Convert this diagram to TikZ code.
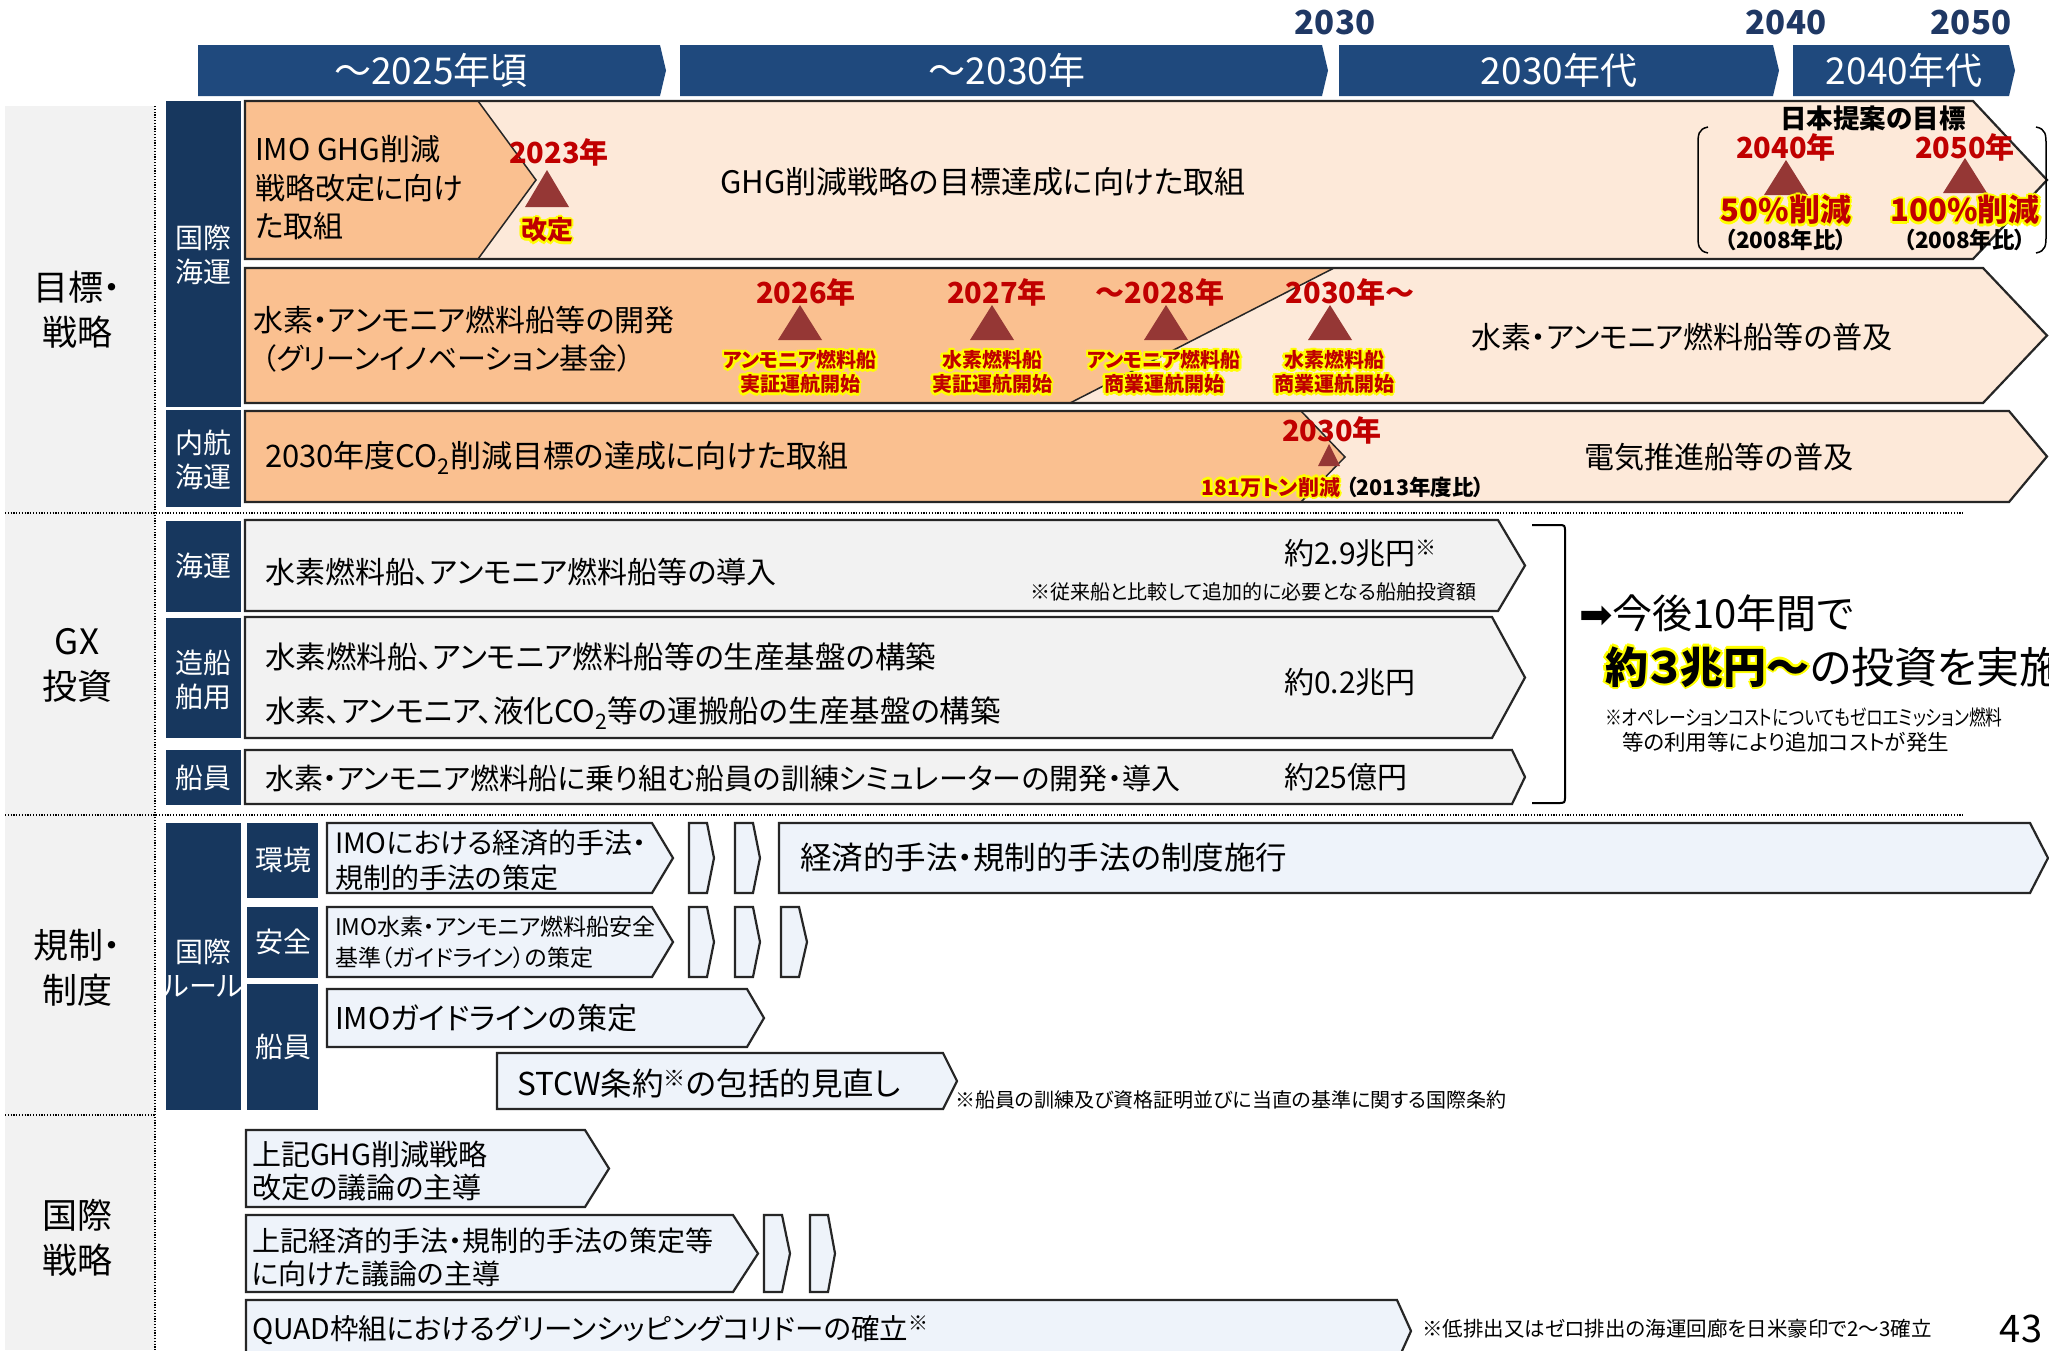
\documentclass[tikz,border=0pt]{standalone}
\usepackage{fontspec}
\setmainfont{Noto Sans CJK JP}[RawFeature=+palt]
\newfontfamily\djv{DejaVu Sans}
\definecolor{hdr}{HTML}{1F497D}
\definecolor{navy}{HTML}{17375E}
\definecolor{yearc}{HTML}{1F3864}
\definecolor{peach}{HTML}{FDE9D9}
\definecolor{orng}{HTML}{FAC090}
\definecolor{redt}{HTML}{C00000}
\definecolor{tric}{HTML}{953735}
\definecolor{gryb}{HTML}{F2F2F2}
\definecolor{lblue}{HTML}{EEF3FA}
\definecolor{bord}{HTML}{262626}
\definecolor{glowc}{HTML}{FFFF00}
\newcommand\fs[1]{\fontsize{#1}{\the\dimexpr #1pt*12/10\relax}\selectfont}
\newcommand\glw[1]{\leavevmode\begingroup\color{glowc}%
\rlap{\kern-2.4pt#1}\rlap{\kern2.4pt#1}\rlap{\raisebox{2.4pt}{#1}}\rlap{\raisebox{-2.4pt}{#1}}%
\rlap{\kern-1.7pt\raisebox{1.7pt}{#1}}\rlap{\kern1.7pt\raisebox{1.7pt}{#1}}%
\rlap{\kern-1.7pt\raisebox{-1.7pt}{#1}}\rlap{\kern1.7pt\raisebox{-1.7pt}{#1}}\endgroup#1}
\newcommand\pent[6]{\path[#6] (#1,#2) -- (#3,#2) -- (#4,{(#2+#5)/2}) -- (#3,#5) -- (#1,#5) -- cycle;}
\newcommand\tri[3]{\fill[tric] (#1,#2) -- ({#1-22},#3) -- ({#1+22},#3) -- cycle;}
\begin{document}
\begin{tikzpicture}[x=1pt,y=-1pt,
  t/.style={inner sep=0pt,outer sep=0pt},
  bx/.style={draw=bord,line width=2.2pt,line join=miter},
  dotline/.style={line width=2pt,dash pattern=on 1.2pt off 1.6pt},
  hbar/.style={fill=hdr},
  sub/.style={fill=navy},
  subt/.style={t,text=white,font=\fontsize{28}{34}\selectfont,align=center},
  catt/.style={t,font=\fontsize{35}{45}\selectfont,align=center},
  rl/.style={t,font=\bfseries\fs{29},text=redt},
  sl/.style={t,font=\bfseries\fs{20},text=redt,align=center},
  body/.style={t,font=\fs{30},anchor=west},
  hdt/.style={t,text=white,font=\fs{37}},
  ]
\useasboundingbox (0,0) rectangle (2049,1350);
\fill[white] (0,0) rectangle (2049,1350);
% left column
\fill[gryb] (5,106) rectangle (155,1350);
\draw[dotline] (155,106) -- (155,1350);
\draw[dotline] (5,513) -- (1963,513);
\draw[dotline] (5,815) -- (1963,815);
\draw[dotline] (5,1115) -- (155,1115);
% header
\pent{198}{45}{660}{666}{96}{hbar}
\pent{680}{45}{1322}{1328}{96}{hbar}
\pent{1339}{45}{1773}{1779}{96}{hbar}
\pent{1793}{45}{2009}{2015}{96}{hbar}
\node[hdt] (h1) at (431,70) {～2025年頃};
\node[hdt] (h2) at (1007,70) {～2030年};
\node[hdt] (h3) at (1559,70) {2030年代};
\node[hdt] (h4) at (1904,70) {2040年代};
\node[t,text=yearc,font=\bfseries\fs{33}] (y1) at (1335,23) {2030};
\node[t,text=yearc,font=\bfseries\fs{33}] (y2) at (1786,23) {2040};
\node[t,text=yearc,font=\bfseries\fs{33}] (y3) at (1971,23) {2050};
% categories
\node[catt] (c1) at (77,310) {目標・\\戦略};
\node[catt] (c2) at (77,665) {GX\\投資};
\node[catt] (c3) at (77,968) {規制・\\制度};
\node[catt] (c4) at (77,1238) {国際\\戦略};
% sub categories
\fill[sub] (166,101) rectangle (241,407);
\fill[sub] (166,410) rectangle (241,507);
\fill[sub] (166,521) rectangle (241,612);
\fill[sub] (166,618) rectangle (241,738);
\fill[sub] (166,750) rectangle (241,805);
\fill[sub] (166,823) rectangle (241,1110);
\fill[sub] (247,823) rectangle (318,898);
\fill[sub] (247,907) rectangle (318,978);
\fill[sub] (247,984) rectangle (318,1110);
\node[subt] (s1) at (203,255) {国際\\海運};
\node[subt] (s2) at (203,460) {内航\\海運};
\node[subt] (s3) at (203,566) {海運};
\node[subt] (s4) at (203,680) {造船\\舶用};
\node[subt] (s5) at (203,778) {船員};
\node[subt] (s6) at (203,968) {国際\\ルール};
\node[subt] (s7) at (283,860) {環境};
\node[subt] (s8) at (283,942) {安全};
\node[subt] (s9) at (283,1047) {船員};
% row 1
\pent{245}{101}{1973}{2047}{259}{fill=peach}
\fill[orng] (245,101) -- (478,101) -- (536,180) -- (478,259) -- (245,259) -- cycle;
\draw[line width=1.5pt,bord] (478,101) -- (536,180) -- (478,259);
\pent{245}{101}{1973}{2047}{259}{bx}
\node[t,font=\fontsize{30}{38.5}\selectfont,align=left,anchor=west] (r1a) at (255,188) {IMO GHG削減\\戦略改定に向け\\た取組};
\node[rl] (r1y) at (559,152) {2023年};
\tri{547}{170}{207}
\node[sl,font=\bfseries\fs{26}] (r1k) at (547,230) {\glw{改定}};
\node[body,anchor=center,font=\fs{31}] (r1b) at (983,182) {GHG削減戦略の目標達成に向けた取組};
\node[t,font=\bfseries\fs{26.5}] (r1j) at (1873,118) {日本提案の目標};
\draw[line width=1.5pt] (1708,127) .. controls (1698,129) and (1698,135) .. (1698,145) -- (1698,235) .. controls (1698,245) and (1698,251) .. (1708,253);
\draw[line width=1.5pt] (2036,127) .. controls (2046,129) and (2046,135) .. (2046,145) -- (2046,235) .. controls (2046,245) and (2046,251) .. (2036,253);
\node[rl] (r1y2) at (1786,147) {2040年};
\tri{1786}{160}{195}
\node[rl,font=\bfseries\fs{31}] (r1p1) at (1786,210) {\glw{50\%削減}};
\node[t,font=\bfseries\fs{22.5}] (r1c1) at (1786,240) {（2008年比）};
\node[rl] (r1y3) at (1965,147) {2050年};
\tri{1965}{158}{193}
\node[rl,font=\bfseries\fs{31}] (r1p2) at (1965,210) {\glw{100\%削減}};
\node[t,font=\bfseries\fs{22.5}] (r1c2) at (1965,240) {（2008年比）};
% row 2
\pent{245}{268}{1983}{2047}{403}{fill=peach}
\fill[orng] (245,268) -- (1334,268) -- (1070,403) -- (245,403) -- cycle;
\draw[line width=1.5pt,bord] (1334,268) -- (1070,403);
\pent{245}{268}{1983}{2047}{403}{bx}
\node[body] (r2a) at (253,320) {水素・アンモニア燃料船等の開発};
\node[body,font=\fs{29}] (r2b) at (262,358) {（グリーンイノベーション基金）};
\node[rl] (r2y1) at (806,292) {2026年};
\node[rl] (r2y2) at (997,292) {2027年};
\node[rl] (r2y3) at (1160,292) {～2028年};
\node[rl] (r2y4) at (1350,292) {2030年～};
\tri{800}{305}{340}
\tri{992}{305}{340}
\tri{1166}{305}{340}
\tri{1330}{305}{340}
\node[sl] (r2s1) at (800,372) {\glw{アンモニア燃料船}\\\glw{実証運航開始}};
\node[sl] (r2s2) at (992,372) {\glw{水素燃料船}\\\glw{実証運航開始}};
\node[sl] (r2s3) at (1164,372) {\glw{アンモニア燃料船}\\\glw{商業運航開始}};
\node[sl] (r2s4) at (1334,372) {\glw{水素燃料船}\\\glw{商業運航開始}};
\node[body,anchor=center] (r2c) at (1682,337) {水素・アンモニア燃料船等の普及};
% row 3
\pent{245}{411}{2009}{2047}{502}{fill=peach}
\fill[orng] (245,411) -- (1301,411) -- (1345,457) -- (1301,502) -- (245,502) -- cycle;
\draw[line width=1.5pt,bord] (1301,411) -- (1345,457) -- (1301,502);
\pent{245}{411}{2009}{2047}{502}{bx}
\node[body,font=\fs{31}] (r3a) at (265,458) {2030年度CO\textsubscript{2}削減目標の達成に向けた取組};
\node[rl] (r3y) at (1332,430) {2030年};
\fill[tric] (1329,444) -- (1318,466) -- (1340,466) -- cycle;
\node[sl,font=\bfseries\fs{21}] (r3s) at (1271,487) {\glw{181万トン削減}};
\node[t,font=\bfseries\fs{21.5},anchor=west] (r3c) at (1346,487) {（2013年度比）};
\node[body,anchor=center] (r3b) at (1719,457) {電気推進船等の普及};
% GX
\pent{245}{520}{1498}{1525}{611}{bx,fill=gryb}
\pent{245}{617}{1492}{1525}{738}{bx,fill=gryb}
\pent{245}{750}{1512}{1525}{804}{bx,fill=gryb}
\node[body] (g1) at (265,572) {水素燃料船、アンモニア燃料船等の導入};
\node[body] (g1v) at (1284,553) {約2.9兆円\textsuperscript{※}};
\node[t,anchor=west,font=\fs{20}] (g1n) at (1030,592) {※従来船と比較して追加的に必要となる船舶投資額};
\node[body,font=\fs{30.5}] (g2a) at (265,657) {水素燃料船、アンモニア燃料船等の生産基盤の構築};
\node[body,font=\fs{30.5}] (g2b) at (265,713) {水素、アンモニア、液化CO\textsubscript{2}等の運搬船の生産基盤の構築};
\node[body] (g2v) at (1284,682) {約0.2兆円};
\node[body,font=\fs{29}] (g3) at (265,778) {水素・アンモニア燃料船に乗り組む船員の訓練シミュレーターの開発・導入};
\node[body] (g3v) at (1284,777) {約25億円};
\draw[line width=2pt] (1532,525) -- (1558,525) .. controls (1565,525) .. (1565,532) -- (1565,796) .. controls (1565,803) .. (1558,803) -- (1532,803);
\node[t,anchor=west,font=\fs{40}] (gm1) at (1579,613) {{\djv ➡}今後10年間で};
\node[t,anchor=west,font=\fs{43}] (gm2) at (1605,667) {{\bfseries\glw{約３兆円～}}の投資を実施};
\node[t,anchor=west,font=\fs{21}] (gm3) at (1605,717) {\scalebox{0.8}[1]{※オペレーションコストについてもゼロエミッション燃料}};
\node[t,anchor=west,font=\fs{21.5}] (gm4) at (1622,742) {等の利用等により追加コストが発生};
% regulations
\pent{327}{823}{652}{673}{893}{bx,fill=lblue}
\pent{689}{823}{707}{714}{893}{bx,fill=lblue}
\pent{735}{823}{753}{760}{893}{bx,fill=lblue}
\pent{779}{823}{2030}{2048}{893}{bx,fill=lblue}
\node[t,anchor=west,align=left,font=\fontsize{28}{35}\selectfont] (e1) at (335,860) {IMOにおける経済的手法・\\規制的手法の策定};
\node[body,font=\fs{31.5}] (e2) at (800,858) {経済的手法・規制的手法の制度施行};
\pent{327}{907}{652}{673}{977}{bx,fill=lblue}
\pent{689}{907}{707}{714}{977}{bx,fill=lblue}
\pent{735}{907}{753}{760}{977}{bx,fill=lblue}
\pent{781}{907}{799}{807}{977}{bx,fill=lblue}
\node[t,anchor=west,align=left,font=\fontsize{23}{31}\selectfont] (a1) at (335,942) {IMO水素・アンモニア燃料船安全\\基準（ガイドライン）の策定};
\pent{327}{989}{747}{764}{1047}{bx,fill=lblue}
\node[body] (m1) at (335,1018) {IMOガイドラインの策定};
\pent{497}{1053}{943}{957}{1109}{bx,fill=lblue}
\node[body,font=\fs{31.5}] (m2) at (517,1083) {STCW条約\textsuperscript{※}の包括的見直し};
\node[t,anchor=west,font=\fs{20}] (m3) at (955,1100) {※船員の訓練及び資格証明並びに当直の基準に関する国際条約};
% international strategy
\pent{246}{1130}{585}{609}{1207}{bx,fill=lblue}
\node[t,anchor=west,align=left,font=\fontsize{29}{33}\selectfont] (i1) at (252,1171) {上記GHG削減戦略\\改定の議論の主導};
\pent{246}{1215}{733}{758}{1292}{bx,fill=lblue}
\pent{764}{1215}{782}{790}{1292}{bx,fill=lblue}
\pent{810}{1215}{828}{835}{1292}{bx,fill=lblue}
\node[t,anchor=west,align=left,font=\fontsize{28}{33}\selectfont] (i2) at (252,1257) {上記経済的手法・規制的手法の策定等\\に向けた議論の主導};
\pent{246}{1300}{1397}{1411}{1362}{bx,fill=lblue}
\node[body,font=\fs{28.5}] (i3) at (252,1330) {QUAD枠組におけるグリーンシッピングコリドーの確立\textsuperscript{※}};
\node[t,anchor=west,font=\fs{20.5}] (i4) at (1422,1329) {※低排出又はゼロ排出の海運回廊を日米豪印で2～3確立};
\node[t,font=\fs{38}] (pg) at (2021,1329) {43};
\end{tikzpicture}
\end{document}
